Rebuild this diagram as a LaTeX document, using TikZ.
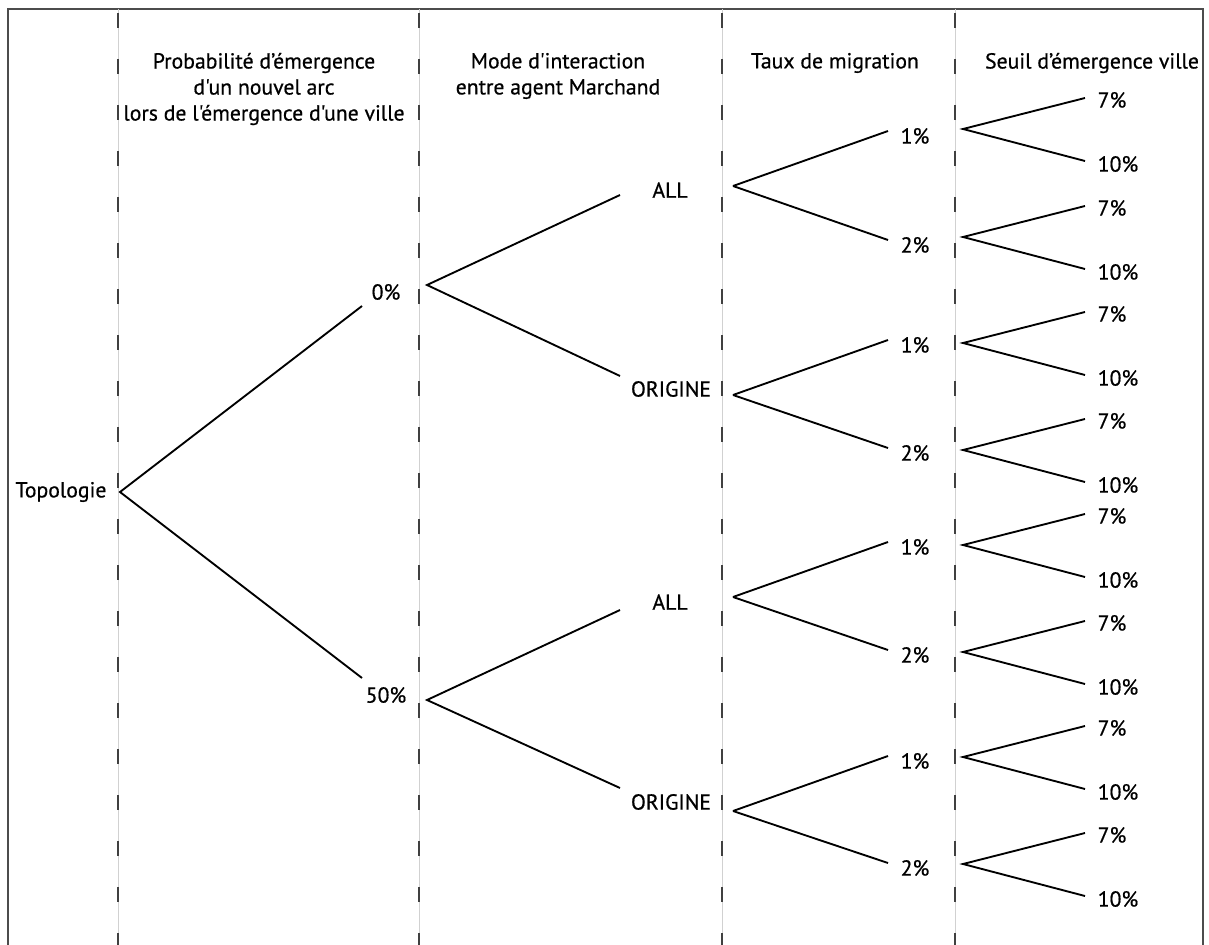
\documentclass[tikz,border=0pt]{standalone}
\usepackage{fontspec}
\newfontfamily\labfont{PT Sans}[FakeBold=0.6]
\begin{document}
\begin{tikzpicture}[x=0.75pt,y=-0.75pt,
  lbl/.style={inner sep=0pt, font=\labfont\fontsize{16.3}{19.5}\selectfont},
  hdr/.style={lbl, align=center},
  branch/.style={line width=1.4pt, black},
  guide/.style={line width=0.6pt, black!18},
  guidedash/.style={line width=1.1pt, black!75, dash pattern=on 11pt off 23.5pt},
  frame/.style={line width=1.1pt, black!70}]
\useasboundingbox (0,0) rectangle (1209,945);
\draw[frame] (8,945) -- (8,9) -- (1203,9) -- (1203,945);
\foreach \x in {118,419,722,955} {
  \draw[guide] (\x,9) -- (\x,945);
  \draw[guidedash] (\x,13) -- (\x,945);
}
% headers
\node[hdr] (h1) at (264,89) {Probabilité d’émergence\\d'un nouvel arc\\lors de l'émergence d'une ville};
\node[hdr] (h2) at (558,76) {Mode d'interaction\\entre agent Marchand};
\node[hdr] (h3) at (835,63) {Taux de migration};
\node[hdr] (h4) at (1092,63) {Seuil d’émergence ville};
% root
\node[lbl] (topo) at (61,492) {Topologie};
\coordinate (vtopo) at (120,492);
% level 1
\node[lbl] (p0) at (386,292) {0\%};
\node[lbl] (p50) at (386,695) {50\%};
\coordinate (p0in) at (362,306);
\coordinate (p50in) at (362,678);
\coordinate (vp0) at (427,285);
\coordinate (vp50) at (427,700);
\draw[branch] (p0in) -- (vtopo) -- (p50in);
% level 2
\node[lbl] (m1) at (670,190) {ALL};
\node[lbl] (m2) at (671,389) {ORIGINE};
\node[lbl] (m3) at (670,602) {ALL};
\node[lbl] (m4) at (671,802) {ORIGINE};
\coordinate (m1in) at (620,195);
\coordinate (m2in) at (620,376);
\coordinate (m3in) at (620,610);
\coordinate (m4in) at (620,788);
\coordinate (vm1) at (733,186);
\coordinate (vm2) at (733,395);
\coordinate (vm3) at (733,597);
\coordinate (vm4) at (733,811);
\draw[branch] (m1in) -- (vp0) -- (m2in);
\draw[branch] (m3in) -- (vp50) -- (m4in);
% level 3 and 4
\foreach \i/\ty/\lab/\pv/\vy in {
  1/136/1/vm1/129, 2/245/2/vm1/237,
  3/345/1/vm2/343, 4/453/2/vm2/450,
  5/547/1/vm3/545, 6/655/2/vm3/652,
  7/761/1/vm4/757, 8/868/2/vm4/864} {
  \node[lbl] (t\i) at (915,\ty) {\lab\%};
  \coordinate (t\i-in) at (888,\ty-5);
  \draw[branch] (\pv) -- (t\i-in);
  \coordinate (vt\i) at (963,\vy);
  \node[lbl] (sa\i) at (1112,\vy-29) {7\%};
  \node[lbl] (sb\i) at (1118,\vy+35) {10\%};
  \coordinate (sa\i-in) at (1085,\vy-31);
  \coordinate (sb\i-in) at (1085,\vy+32);
  \draw[branch] (sa\i-in) -- (vt\i) -- (sb\i-in);
}
\end{tikzpicture}
\end{document}
